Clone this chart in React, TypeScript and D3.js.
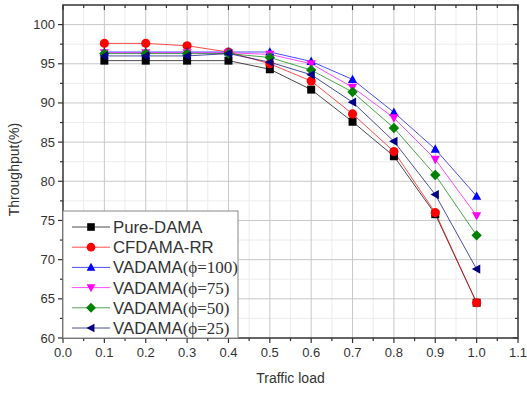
import React, { useEffect, useRef } from 'react';
import * as d3 from 'd3';

const loads = [0.1, 0.2, 0.3, 0.4, 0.5, 0.6, 0.7, 0.8, 0.9, 1.0];
const pureDama = [95.4, 95.4, 95.4, 95.4, 94.3, 91.7, 87.6, 83.2, 75.8, 64.5];
const cfdamaRR = [97.6, 97.6, 97.3, 96.5, 95.0, 92.8, 88.6, 83.8, 76.0, 64.5];
const vadama100 = [96.5, 96.5, 96.5, 96.5, 96.5, 95.3, 93.0, 88.8, 84.1, 78.1];
const vadama75 = [96.4, 96.4, 96.4, 96.4, 96.2, 95.0, 92.0, 88.1, 82.8, 75.6];
const vadama50 = [96.3, 96.3, 96.3, 96.3, 95.8, 94.2, 91.4, 86.8, 80.8, 73.1];
const vadama25 = [96.0, 96.0, 96.0, 96.3, 95.2, 93.6, 90.1, 85.1, 78.3, 68.8];

const xTicks = [0, 0.1, 0.2, 0.3, 0.4, 0.5, 0.6, 0.7, 0.8, 0.9, 1.0, 1.1];
const yTicks = [60, 65, 70, 75, 80, 85, 90, 95, 100];

const series = [
  { name: 'Pure-DAMA', phi: '', values: pureDama, color: '#000000', symbol: 'square' },
  { name: 'CFDAMA-RR', phi: '', values: cfdamaRR, color: '#ff0000', symbol: 'circle' },
  { name: 'VADAMA', phi: '100', values: vadama100, color: '#0000ff', symbol: 'up' },
  { name: 'VADAMA', phi: '75', values: vadama75, color: '#ff00ff', symbol: 'down' },
  { name: 'VADAMA', phi: '50', values: vadama50, color: '#008000', symbol: 'diamond' },
  { name: 'VADAMA', phi: '25', values: vadama25, color: '#000080', symbol: 'left' },
];

function markerPath(sym: string, s: number) {
  switch (sym) {
    case 'square': return `M${-s},${-s}h${2 * s}v${2 * s}h${-2 * s}Z`;
    case 'circle': return d3.symbol(d3.symbolCircle, Math.PI * s * s * 1.3)() as string;
    case 'up': return `M0,${-s * 1.2}L${s * 1.15},${s * 0.9}L${-s * 1.15},${s * 0.9}Z`;
    case 'down': return `M0,${s * 1.2}L${s * 1.15},${-s * 0.9}L${-s * 1.15},${-s * 0.9}Z`;
    case 'diamond': return `M0,${-s * 1.3}L${s * 1.3},0L0,${s * 1.3}L${-s * 1.3},0Z`;
    case 'left': return `M${-s * 1.2},0L${s * 0.9},${-s * 1.15}L${s * 0.9},${s * 1.15}Z`;
  }
  return '';
}

const App = () => {
  const svgRef = useRef<SVGSVGElement>(null);

  useEffect(() => {
    const width = 527;
    const height = 393;
    const left = 63, right = 518, top = 5, bottom = 338;

    const svg = d3.select(svgRef.current);
    svg.selectAll('*').remove();
    svg.attr('width', width).attr('height', height);

    const x = d3.scaleLinear().domain([0, 1.1]).range([left, right]);
    const y = d3.scaleLinear().domain([60, 102.5]).range([bottom, top]);

    svg.append('rect').attr('width', width).attr('height', height).attr('fill', '#fff');

    // minor grid
    const xMinor = d3.range(0.05, 1.1, 0.1);
    const yMinor = d3.range(62.5, 102.5, 5);
    const grid = svg.append('g');
    xMinor.forEach(v => grid.append('line').attr('x1', x(v)).attr('x2', x(v)).attr('y1', top).attr('y2', bottom)
      .attr('stroke', '#ececec').attr('stroke-width', 1));
    yMinor.forEach(v => grid.append('line').attr('y1', y(v)).attr('y2', y(v)).attr('x1', left).attr('x2', right)
      .attr('stroke', '#ececec').attr('stroke-width', 1));
    xTicks.slice(1, -1).forEach(v => grid.append('line').attr('x1', x(v)).attr('x2', x(v)).attr('y1', top).attr('y2', bottom)
      .attr('stroke', '#c8c8c8').attr('stroke-width', 1));
    yTicks.slice(1).forEach(v => grid.append('line').attr('y1', y(v)).attr('y2', y(v)).attr('x1', left).attr('x2', right)
      .attr('stroke', '#c8c8c8').attr('stroke-width', 1));

    // axes
    const ax = svg.append('g').attr('stroke', '#333').attr('stroke-width', 1.2);
    xTicks.forEach(v => {
      ax.append('line').attr('x1', x(v)).attr('x2', x(v)).attr('y1', bottom).attr('y2', bottom + 5);
      ax.append('line').attr('x1', x(v)).attr('x2', x(v)).attr('y1', top).attr('y2', top + 5);
    });
    xMinor.forEach(v => {
      ax.append('line').attr('x1', x(v)).attr('x2', x(v)).attr('y1', bottom).attr('y2', bottom + 3);
      ax.append('line').attr('x1', x(v)).attr('x2', x(v)).attr('y1', top).attr('y2', top + 3);
    });
    yTicks.forEach(v => {
      ax.append('line').attr('y1', y(v)).attr('y2', y(v)).attr('x1', left - 5).attr('x2', left);
      ax.append('line').attr('y1', y(v)).attr('y2', y(v)).attr('x1', right - 5).attr('x2', right);
    });
    yMinor.forEach(v => {
      ax.append('line').attr('y1', y(v)).attr('y2', y(v)).attr('x1', left - 3).attr('x2', left);
      ax.append('line').attr('y1', y(v)).attr('y2', y(v)).attr('x1', right - 3).attr('x2', right);
    });
    svg.append('rect').attr('x', left).attr('y', top).attr('width', right - left).attr('height', bottom - top)
      .attr('fill', 'none').attr('stroke', '#333').attr('stroke-width', 1.5);

    const font = 'Arial, "Liberation Sans", sans-serif';
    svg.append('g').selectAll('text').data(xTicks).join('text')
      .attr('x', d => x(d)).attr('y', bottom + 19).attr('text-anchor', 'middle')
      .attr('font-family', font).attr('font-size', 13).attr('fill', '#333')
      .text(d => d.toFixed(1));
    svg.append('g').selectAll('text').data(yTicks).join('text')
      .attr('x', left - 8).attr('y', d => y(d) + 4.5).attr('text-anchor', 'end')
      .attr('font-family', font).attr('font-size', 13).attr('fill', '#333')
      .text(d => d);

    svg.append('text').attr('x', x(0.55)).attr('y', 383).attr('text-anchor', 'middle')
      .attr('font-family', font).attr('font-size', 14).attr('fill', '#333').text('Traffic load');
    svg.append('text').attr('transform', `translate(19,${y(81.5)}) rotate(-90)`).attr('text-anchor', 'middle')
      .attr('font-family', font).attr('font-size', 14).attr('fill', '#333').text('Throughput(%)');

    // series
    const line = d3.line<number>().x((_, i) => x(loads[i])).y(d => y(d));
    series.forEach(s => {
      svg.append('path').attr('d', line(s.values)).attr('fill', 'none')
        .attr('stroke', s.color).attr('stroke-width', 1).attr('stroke-opacity', 0.7);
    });
    series.forEach(s => {
      svg.append('g').selectAll('path').data(s.values).join('path')
        .attr('transform', (d, i) => `translate(${x(loads[i])},${y(d)})`)
        .attr('d', markerPath(s.symbol, 4)).attr('fill', s.color);
    });

    // legend
    const lg = svg.append('g');
    lg.append('rect').attr('x', left).attr('y', 211).attr('width', 175).attr('height', bottom - 211)
      .attr('fill', '#fff').attr('stroke', '#888').attr('stroke-width', 1);
    series.forEach((s, i) => {
      const ly = 227 + i * 20.2;
      lg.append('line').attr('x1', 72).attr('x2', 110).attr('y1', ly).attr('y2', ly)
        .attr('stroke', s.color).attr('stroke-width', 1).attr('stroke-opacity', 0.7);
      lg.append('path').attr('transform', `translate(91,${ly})`).attr('d', markerPath(s.symbol, 3.8)).attr('fill', s.color);
      const t = lg.append('text').attr('x', 113).attr('y', ly + 6)
        .attr('font-family', font).attr('font-size', 16.8).attr('fill', '#333');
      t.append('tspan').text(s.name);
      if (s.phi) {
        t.append('tspan').attr('font-family', '"Liberation Serif", "DejaVu Serif", serif').attr('font-size', 17)
          .text(`(ϕ=${s.phi})`);
      }
    });
  }, []);

  return (
    <div style={{ position: 'absolute', left: 0, top: 0 }}>
      <svg ref={svgRef} style={{ display: 'block' }}></svg>
    </div>
  );
};

export default App;
